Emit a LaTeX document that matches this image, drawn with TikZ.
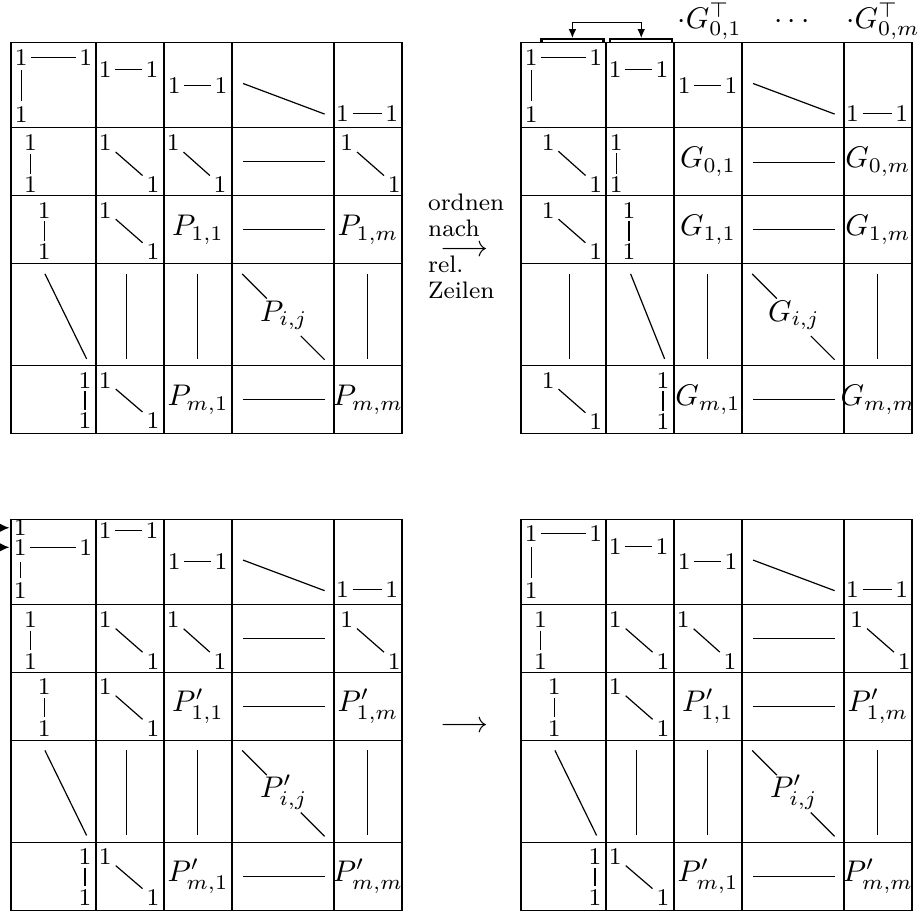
\documentclass[tikz,border=0pt]{standalone}
\usetikzlibrary{arrows.meta}
\tikzset{
  one/.style={font=\footnotesize, inner sep=0pt},
  lab/.style={inner sep=0pt},
  grd/.style={line width=0.4pt},
  brk/.style={line width=0.8pt},
  hl/.style={shorten <=3.4pt, shorten >=3.4pt},
  vl/.style={shorten <=3.7pt, shorten >=3.7pt},
  dl/.style={shorten <=4.6pt, shorten >=4.6pt},
  tipr/.style={-{Latex[length=3.2pt,width=2.8pt]}},
  dtip/.style={{Latex[length=3pt,width=2.6pt]}-{Latex[length=3pt,width=2.6pt]}},
}
\newcommand\hpair[4]{\node[one] (#1a) at (#2,#4) {1}; \node[one] (#1b) at (#3,#4) {1}; \draw[hl] (#1a.center) -- (#1b.center);}
\newcommand\vpair[4]{\node[one] (#1a) at (#2,#3) {1}; \node[one] (#1b) at (#2,#4) {1}; \draw[vl] (#1a.center) -- (#1b.center);}
\newcommand\dpair[5]{\node[one] (#1a) at (#2,#3) {1}; \node[one] (#1b) at (#4,#5) {1}; \draw[dl] (#1a.center) -- (#1b.center);}
\newcommand\mgrid{%
  \draw[grd] (0,0) rectangle (4.6,4.6);
  \foreach \t in {1,1.8,2.6,3.8} {\draw[grd] (\t,0) -- (\t,4.6); \draw[grd] (0,\t) -- (4.6,\t);}}
\newcommand\restrow[2]{%
  \hpair{#1ud}{1.11}{1.66}{#2}
  \hpair{#1ue}{1.92}{2.47}{0.5}
  \draw (2.73,0.48) -- (3.69,0.84);
  \hpair{#1uf}{3.9}{4.48}{0.83}}
\newcommand\firstrow[1]{%
  \node[one] (#1ua) at (0.12,0.17) {1};
  \node[one] (#1ub) at (0.88,0.17) {1};
  \node[one] (#1uc) at (0.12,0.84) {1};
  \draw[hl] (#1ua.center) -- (#1ub.center); \draw[shorten <=4.4pt, shorten >=4.4pt] (#1ua.center) -- (#1uc.center);
  \restrow{#1}{0.32}}
\newcommand\midrows[2]{%
  \draw (2.19,2.72) -- (2.19,3.72);
  \node[lab] (#1dd) at (3.21,3.21) {$#2_{i,j}$};
  \draw (2.72,2.72) -- (3.01,3.01);
  \draw (3.41,3.45) -- (3.69,3.73);
  \draw (4.19,2.72) -- (4.19,3.72);
  \draw (2.73,2.2) -- (3.69,2.2);
  \draw (2.73,4.2) -- (3.69,4.2);}
\newcommand\lowerrows[2]{%
  \vpair{#1ba}{0.23}{1.18}{1.67}
  \dpair{#1bb}{1.11}{1.18}{1.67}{1.67}
  \dpair{#1bc}{1.91}{1.18}{2.46}{1.67}
  \draw (2.73,1.4) -- (3.69,1.4);
  \dpair{#1be}{3.95}{1.18}{4.51}{1.67}
  \vpair{#1ca}{0.39}{1.97}{2.46}
  \dpair{#1cb}{1.11}{1.97}{1.67}{2.46}
  \node[lab] (#1cc) at (2.2,2.2) {$#2_{1,1}$};
  \node[lab] (#1ce) at (4.2,2.2) {$#2_{1,m}$};
  \draw (0.4,2.72) -- (0.89,3.72);
  \draw (1.36,2.72) -- (1.36,3.72);
  \midrows{#1}{#2}
  \vpair{#1ea}{0.87}{3.97}{4.45}
  \dpair{#1eb}{1.11}{3.97}{1.67}{4.45}
  \node[lab] (#1ec) at (2.2,4.2) {$#2_{m,1}$};
  \node[lab] (#1ee) at (4.2,4.2) {$#2_{m,m}$};}
\begin{document}
\begin{tikzpicture}[yscale=-1, line width=0.4pt]
\path[fill=white] (0,0) rectangle (10.8,10.741);
\useasboundingbox (0,0) rectangle (10.8,10.741);
% top left
\begin{scope}[shift={(0.129,0.502)}]
  \mgrid
  \firstrow{a}
  \lowerrows{a}{P}
\end{scope}
% top right
\begin{scope}[shift={(6.129,0.502)}]
  \mgrid
  \firstrow{b}
  \dpair{bba}{0.32}{1.17}{0.88}{1.67}
  \vpair{bbb}{1.12}{1.17}{1.67}
  \node[lab] (bbc) at (2.2,1.4) {$G_{0,1}$};
  \draw (2.73,1.41) -- (3.69,1.41);
  \node[lab] (bbe) at (4.2,1.4) {$G_{0,m}$};
  \dpair{bca}{0.32}{1.97}{0.88}{2.46}
  \vpair{bcb}{1.27}{1.97}{2.46}
  \node[lab] (bcc) at (2.2,2.2) {$G_{1,1}$};
  \node[lab] (bce) at (4.2,2.2) {$G_{1,m}$};
  \draw (0.57,2.72) -- (0.57,3.72);
  \draw (1.29,2.72) -- (1.69,3.72);
  \midrows{b}{G}
  \dpair{bea}{0.32}{3.97}{0.88}{4.46}
  \vpair{beb}{1.67}{3.97}{4.46}
  \node[lab] (bec) at (2.2,4.2) {$G_{m,1}$};
  \node[lab] (bee) at (4.2,4.2) {$G_{m,m}$};
  % column labels
  \node[lab, anchor=base] (bt1) at (2.22,-0.17) {$\cdot G^{\top}_{0,1}$};
  \node[lab, anchor=base] (bt2) at (3.19,-0.17) {$\cdots$};
  \node[lab, anchor=base] (bt3) at (4.26,-0.17) {$\cdot G^{\top}_{0,m}$};
  % brackets and swap arrow
  \draw[brk] (0.24,0) -- (0.24,-0.04) -- (0.97,-0.04) -- (0.97,0);
  \draw[brk] (1.05,0) -- (1.05,-0.04) -- (1.78,-0.04) -- (1.78,0);
  \coordinate (bk1) at (0.605,-0.055);
  \coordinate (bk2) at (1.415,-0.055);
  \draw[dtip] (bk1) -- ++(0,-0.18) -| (bk2);
\end{scope}
% bottom left
\begin{scope}[shift={(0.129,6.109)}]
  \mgrid
  \node[one] (c1a) at (0.11,0.10) {1};
  \node[one] (c1b) at (0.11,0.33) {1};
  \node[one] (c1c) at (0.88,0.33) {1};
  \node[one] (c1d) at (0.11,0.84) {1};
  \draw[hl] (c1b.center) -- (c1c.center);
  \draw[shorten <=5pt, shorten >=4.2pt] (c1b.center) -- (c1d.center);
  \restrow{c}{0.13}
  \coordinate (cs1) at (-0.129,0.10);
  \coordinate (cs2) at (-0.129,0.33);
  \draw[tipr] (cs1) -- ([xshift=-1.3pt]c1a.west);
  \draw[tipr] (cs2) -- ([xshift=-1.3pt]c1b.west);
  \lowerrows{c}{P'}
\end{scope}
% bottom right
\begin{scope}[shift={(6.129,6.109)}]
  \mgrid
  \firstrow{d}
  \lowerrows{d}{P'}
\end{scope}
% middle arrows
\node[lab, anchor=base west, font=\footnotesize] (m1) at (5.03,2.785) {\shortstack[l]{ordnen\\nach}};
\node[lab] (m2) at (5.46,2.95) {$\longrightarrow$};
\node[lab, anchor=base west, font=\footnotesize] (m3) at (5.03,3.51) {\shortstack[l]{rel.\\Zeilen}};
\node[lab] (m4) at (5.46,8.55) {$\longrightarrow$};
\end{tikzpicture}
\end{document}
